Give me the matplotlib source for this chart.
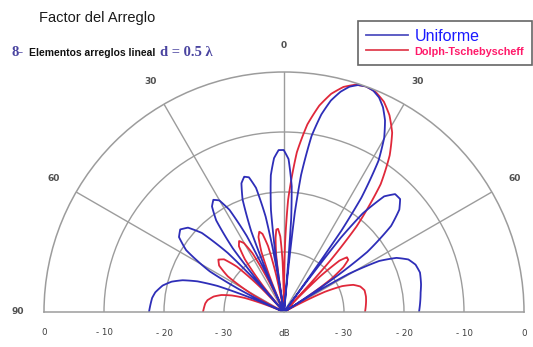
import numpy as np
import matplotlib
matplotlib.use('Agg')
import matplotlib.pyplot as plt
from matplotlib.ticker import FixedLocator

# ---------------- data ----------------
uniform_theta_deg = [
    -90.0, -83.9, -81.3, -77.7, -74.9, -72.6, -70.5, -68.6,
    -66.9, -66.0, -65.2, -63.2, -61.3, -57.7, -54.5, -51.5,
    -48.7, -46.1, -43.6, -42.3, -41.1, -40.0, -38.8, -36.5,
    -34.3, -32.2, -30.1, -28.1, -26.1, -25.1, -24.1, -23.1,
    -22.1, -20.2, -18.3, -16.4, -14.6, -12.7, -10.9, -10.0,
    -9.1, -8.2, -7.3, -5.5, -3.7, -1.9, -0.1, 1.7,
    3.5, 4.4, 5.3, 6.2, 7.1, 8.9, 10.7, 12.5,
    14.4, 16.2, 18.1, 20.0, 21.9, 23.9, 25.8, 27.8,
    29.9, 32.0, 34.1, 35.2, 36.3, 37.4, 38.6, 40.9,
    43.3, 45.8, 48.4, 51.2, 54.2, 55.7, 57.4, 58.4,
    59.5, 61.8, 64.3, 67.1, 70.2, 73.8, 78.6, 81.9,
    90.0]
uniform_db = [
    -17.5, -17.9, -18.3, -19.3, -20.6, -22.3, -24.7, -28.1,
    -34.1, -40.0, -40.0, -31.7, -25.9, -20.7, -18.5, -17.9,
    -18.7, -21.0, -26.4, -32.3, -40.0, -32.3, -26.4, -21.0,
    -18.7, -17.9, -18.5, -20.7, -25.9, -31.7, -40.0, -31.5,
    -25.5, -20.0, -17.4, -16.5, -16.8, -18.8, -23.8, -29.5,
    -40.0, -29.0, -22.9, -17.1, -14.3, -13.0, -13.0, -14.5,
    -19.0, -24.4, -40.0, -23.4, -17.0, -10.3, -6.5, -3.9,
    -2.1, -0.9, -0.2, 0.0, -0.2, -0.9, -2.1, -3.9,
    -6.5, -10.3, -17.0, -23.4, -40.0, -24.4, -19.0, -14.5,
    -13.0, -13.0, -14.3, -17.1, -22.9, -29.0, -40.0, -33.3,
    -27.5, -22.0, -19.2, -17.5, -16.7, -16.4, -16.7, -17.0,
    -17.5]

dolph_theta_deg = [
    -90.0, -83.8, -81.2, -77.6, -74.8, -72.4, -70.3, -68.4,
    -66.6, -65.8, -65.0, -62.9, -61.1, -57.6, -54.4, -51.4,
    -48.7, -46.1, -43.6, -42.3, -41.1, -40.0, -38.8, -36.6,
    -34.4, -32.3, -30.2, -28.2, -26.2, -25.2, -24.2, -23.3,
    -22.4, -20.6, -18.8, -17.1, -15.4, -13.6, -11.9, -11.1,
    -10.2, -9.6, -9.0, -7.8, -6.5, -5.3, -4.1, -2.8,
    -1.6, -1.0, -0.4, 0.9, 2.1, 4.6, 7.1, 9.7,
    12.2, 14.8, 17.4, 20.0, 22.7, 25.4, 28.2, 31.1,
    34.0, 37.1, 40.3, 42.0, 43.7, 44.5, 45.4, 47.2,
    49.0, 50.9, 52.9, 55.0, 57.2, 58.3, 59.5, 60.5,
    61.5, 63.7, 66.0, 68.6, 71.5, 74.9, 79.3, 82.5,
    90.0]
dolph_db = [
    -26.5, -26.8, -27.1, -28.0, -29.2, -30.9, -33.1, -36.5,
    -40.0, -40.0, -40.0, -40.0, -34.2, -28.9, -26.7, -26.0,
    -26.7, -29.1, -34.4, -40.0, -40.0, -40.0, -34.4, -29.1,
    -26.7, -26.0, -26.7, -28.9, -34.2, -40.0, -40.0, -40.0,
    -34.7, -29.3, -26.8, -26.0, -26.5, -28.7, -33.8, -39.6,
    -40.0, -40.0, -36.1, -30.4, -27.6, -26.2, -26.1, -27.4,
    -31.6, -36.8, -40.0, -28.5, -21.3, -13.3, -8.5, -5.1,
    -2.8, -1.2, -0.3, 0.0, -0.3, -1.2, -2.8, -5.1,
    -8.5, -13.3, -21.3, -28.5, -40.0, -36.8, -31.6, -27.4,
    -26.1, -26.2, -27.6, -30.4, -36.1, -40.0, -40.0, -40.0,
    -38.1, -32.4, -29.4, -27.6, -26.6, -26.1, -26.1, -26.2,
    -26.5]

ring_db = [-30, -20, -10]
ray_deg = [-60, -30, 0, 30, 60]
angle_label_deg = [-90, -60, -30, 0, 30, 60]
angle_labels = ['90', '60', '30', '0', '30', '60']
db_label_values = [0, -10, -20, -30, -40, -30, -20, -10, 0]
db_label_side = [-90, -90, -90, -90, 0, 90, 90, 90, 90]
db_labels = ['0', '- 10', '- 20', '- 30', 'dB', '- 30', '- 20', '- 10', '0']
series_names = ['Uniforme', 'Dolph-Tschebyscheff']

W, H = 533, 347
fig = plt.figure(figsize=(W / 100, H / 100), dpi=100)
fig.patch.set_facecolor('white')

# polar half-plane: centre at (284, 312) px from top-left, radius 240 px
cx, cy, R = 284, 312, 240
ax = fig.add_axes([(cx - R) / W, (H - cy - R / 2) / H, 2 * R / W, 2 * R / H],
                  projection='polar')
ax.set_theta_zero_location('N')
ax.set_theta_direction(-1)
ax.set_thetamin(-90)
ax.set_thetamax(90)
ax.set_rlim(-40, 0)
ax.set_facecolor('white')

grid_c = '#9c9c9c'
ax.set_rgrids(ring_db, labels=[''] * len(ring_db))
ax.set_xticks(np.radians(ray_deg))
ax.set_xticklabels([''] * len(ray_deg))
ax.xaxis.set_minor_locator(FixedLocator(np.radians(np.arange(-85, 90, 5))))
ax.grid(True, color=grid_c, linewidth=1.0)
ax.tick_params(axis='x', which='both', direction='in', length=7,
               color=grid_c, width=1.0)
ax.tick_params(axis='y', length=0)
for name, sp in ax.spines.items():
    if name == 'inner':
        sp.set_visible(False)
    else:
        sp.set_color(grid_c)
        sp.set_linewidth(1.1)

blue = '#2e2eb8'
red = '#e0283a'
l_red, = ax.plot(np.radians(dolph_theta_deg), dolph_db, color=red, lw=1.3)
l_blue, = ax.plot(np.radians(uniform_theta_deg), uniform_db, color=blue, lw=1.3)
# let the polar projection draw each segment as a curve in (theta, r)
for ln in (l_red, l_blue):
    ln.get_path()._interpolation_steps = 16

for a, lab in zip(angle_label_deg, angle_labels):
    ax.text(np.radians(a), 4.4, lab, ha='center', va='center', fontsize=6.5,
            color='#505050', fontweight='bold', clip_on=False)

for side, v, lab in zip(db_label_side, db_label_values, db_labels):
    ax.annotate(lab, xy=(np.radians(side), v), xytext=(0, -21),
                textcoords='offset pixels', ha='center', va='center',
                fontsize=6.3, color='#404040', annotation_clip=False)

# header
fig.text(39 / W, 1 - 22 / H, 'Factor del Arreglo', fontsize=10.5,
         family='Liberation Sans', color='#1a1a1a', va='baseline')
hc = '#4a44a0'
fig.text(12 / W, 1 - 56 / H, '8-', fontsize=10.5, family='Liberation Serif',
         fontweight='bold', color=hc, va='baseline')
fig.text(29 / W, 1 - 56 / H, 'Elementos arreglos lineal', fontsize=7.5,
         family='Liberation Sans', fontweight='bold', color='#111111',
         va='baseline')
fig.text(160 / W, 1 - 56 / H, 'd = 0.5 λ', fontsize=10.5, family='Liberation Serif',
         fontweight='bold', color=hc, va='baseline')

leg = fig.legend([l_blue, l_red], series_names, loc='upper right',
                 bbox_to_anchor=(532 / W, 1 - 21 / H),
                 frameon=True, fancybox=False, handlelength=2.75,
                 handletextpad=0.45, borderpad=0.5, labelspacing=0.05,
                 borderaxespad=0, prop={'family': 'Liberation Sans', 'size': 11})
leg.get_frame().set_edgecolor('#404040')
leg.get_frame().set_linewidth(1.2)
t0, t1 = leg.get_texts()
t0.set_color('#1a1aff')
t0.set_fontsize(11.5)
t1.set_color('#ff1a6a')
t1.set_fontsize(7.8)
t1.set_fontweight('bold')
leg.legend_handles[0].set_color('#5050c0')
leg.legend_handles[1].set_color('#e04050')

fig.savefig('out.png', dpi=100, facecolor='white')
